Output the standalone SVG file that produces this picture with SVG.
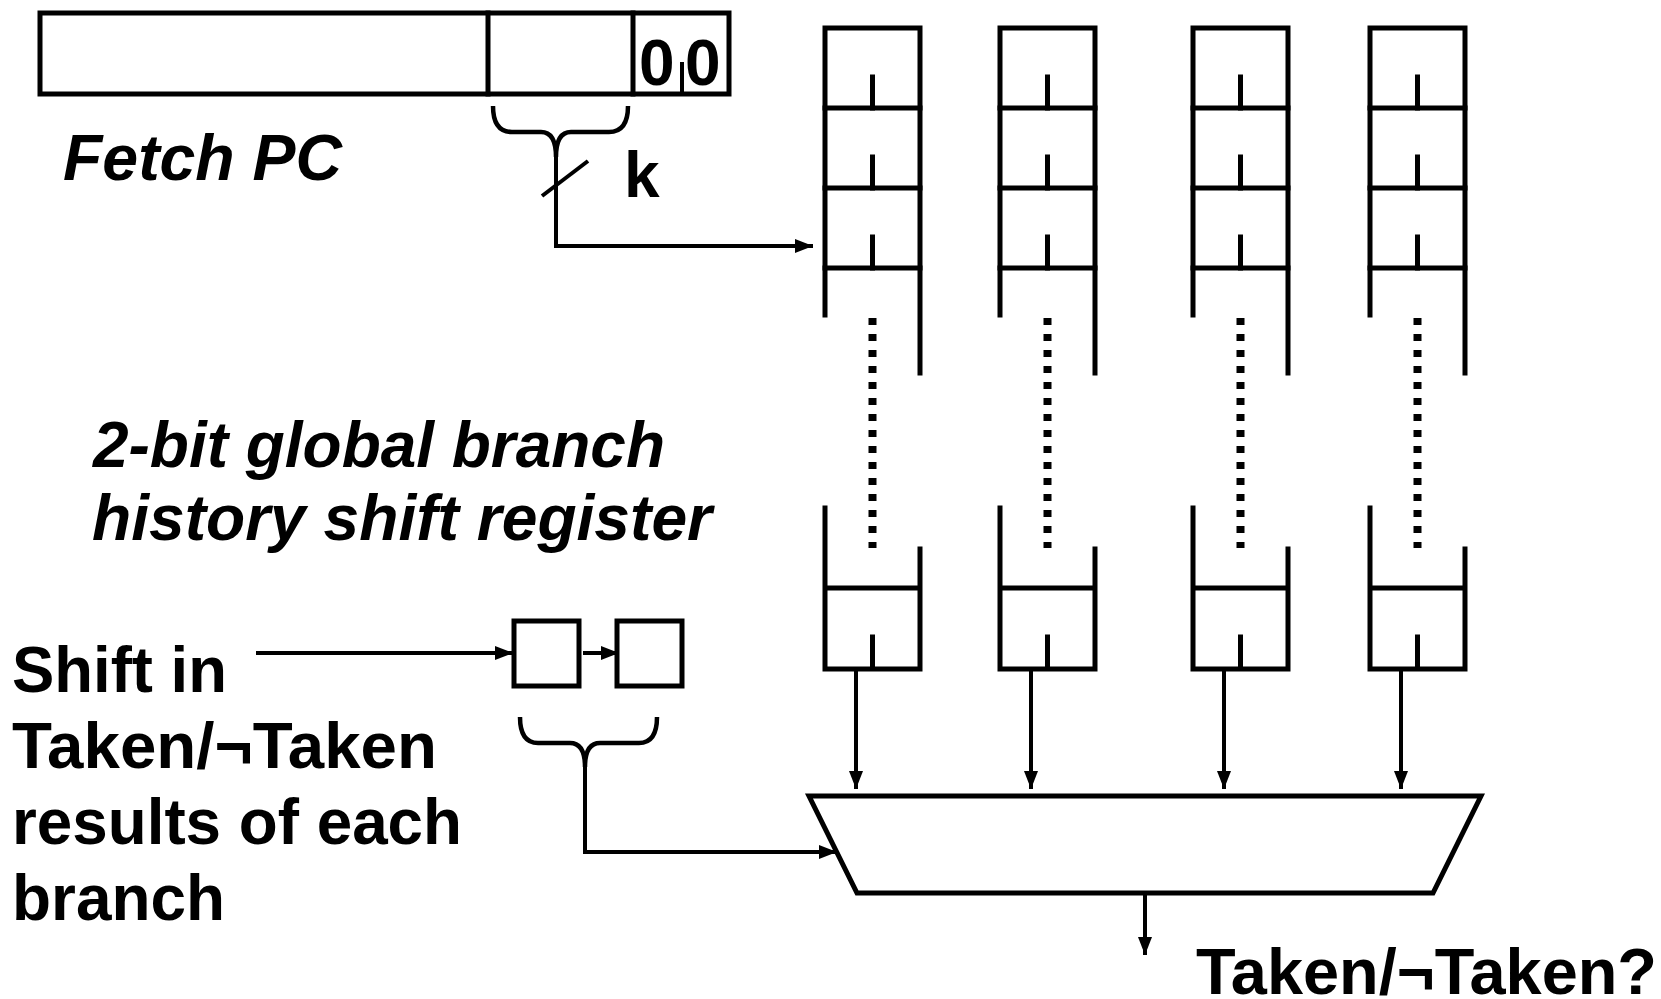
<svg xmlns="http://www.w3.org/2000/svg" width="1661" height="999" viewBox="0 0 1661 999">
<defs>
<style>
.t{font-family:"Liberation Sans",Arial,sans-serif;font-weight:bold;font-size:64px;fill:#000}
.i{font-style:italic}
.box{fill:none;stroke:#000;stroke-width:5;stroke-linecap:square}
.ln{fill:none;stroke:#000;stroke-width:4}
.br{fill:none;stroke:#000;stroke-width:4.5}
.dot{fill:none;stroke:#000;stroke-width:8;stroke-dasharray:7 9}
.arr{fill:none;stroke:#000;stroke-width:4;marker-end:url(#ah)}
</style>
<marker id="ah" markerUnits="userSpaceOnUse" markerWidth="18" markerHeight="14" refX="18" refY="7" orient="auto">
<path d="M0,0 L18,7 L0,14 z" fill="#000"/>
</marker>
<g id="col">
<path class="box" d="M0,287 V0 H95 V345"/>
<path class="box" d="M0,80 H95 M0,160 H95 M0,240 H95"/>
<path class="box" d="M47.5,49 V80 M47.5,129 V160 M47.5,209 V240"/>
<path class="dot" d="M47.5,290 V520"/>
<path class="box" d="M0,480 V641 H95 V521 M0,560 H95 M47.5,609 V641"/>
</g>
</defs>
<rect width="1661" height="999" fill="#fff"/>

<g id="fetch-pc">
<rect class="box" x="40" y="13" width="689" height="81"/>
<path class="box" d="M488,13 V94 M633,13 V94"/>
<path class="ln" d="M682,62 V94"/>
<text class="t" x="639" y="85">0</text>
<text class="t" x="685" y="85">0</text>
<text class="t i" x="63" y="180" textLength="279" lengthAdjust="spacingAndGlyphs">Fetch PC</text>
</g>

<g id="pc-brace">
<path class="br" d="M493,106 Q493,132 512,132 L541,132 Q556,132 556,157 Q556,132 571,132 L609,132 Q628,132 628,106"/>
<path class="ln" d="M542,196 L588,161"/>
<text class="t" x="624" y="197">k</text>
</g>

<g id="pht">
<use href="#col" x="825" y="28"/>
<use href="#col" x="1000" y="28"/>
<use href="#col" x="1193" y="28"/>
<use href="#col" x="1370" y="28"/>
</g>

<g id="ghr-label">
<text class="t i" x="93" y="467" textLength="572" lengthAdjust="spacingAndGlyphs">2-bit global branch</text>
<text class="t i" x="92" y="540" textLength="620" lengthAdjust="spacingAndGlyphs">history shift register</text>
</g>

<g id="shift-label">
<text class="t" x="12" y="692" textLength="215" lengthAdjust="spacingAndGlyphs">Shift in</text>
<text class="t" x="12" y="768" textLength="425" lengthAdjust="spacingAndGlyphs">Taken/¬Taken</text>
<text class="t" x="12" y="844" textLength="450" lengthAdjust="spacingAndGlyphs">results of each</text>
<text class="t" x="12" y="920" textLength="213" lengthAdjust="spacingAndGlyphs">branch</text>
</g>

<g id="ghr">
<rect class="box" x="514" y="621" width="65" height="65"/>
<rect class="box" x="617" y="621" width="65" height="65"/>
<path class="br" d="M520,717 Q520,743 538,743 L570,743 Q585,743 585,767 Q585,743 600,743 L639,743 Q657,743 657,717"/>
</g>

<g id="mux">
<path class="box" d="M809,796 H1481 L1433,893 H857 Z" stroke-linejoin="miter"/>
</g>

<g id="result">
<text class="t" x="1196" y="994" textLength="461" lengthAdjust="spacingAndGlyphs">Taken/¬Taken?</text>
</g>

<g id="connectors">
<path class="arr" d="M556,150 V246 H813"/>
<path class="arr" d="M256,653 H513"/>
<path class="arr" d="M583,653 H619"/>
<path class="arr" d="M585,760 V852 H837"/>
<path class="arr" d="M856,669 V789"/>
<path class="arr" d="M1031,669 V789"/>
<path class="arr" d="M1224,669 V789"/>
<path class="arr" d="M1401,669 V789"/>
<path class="arr" d="M1145,893 V955"/>
</g>
</svg>
